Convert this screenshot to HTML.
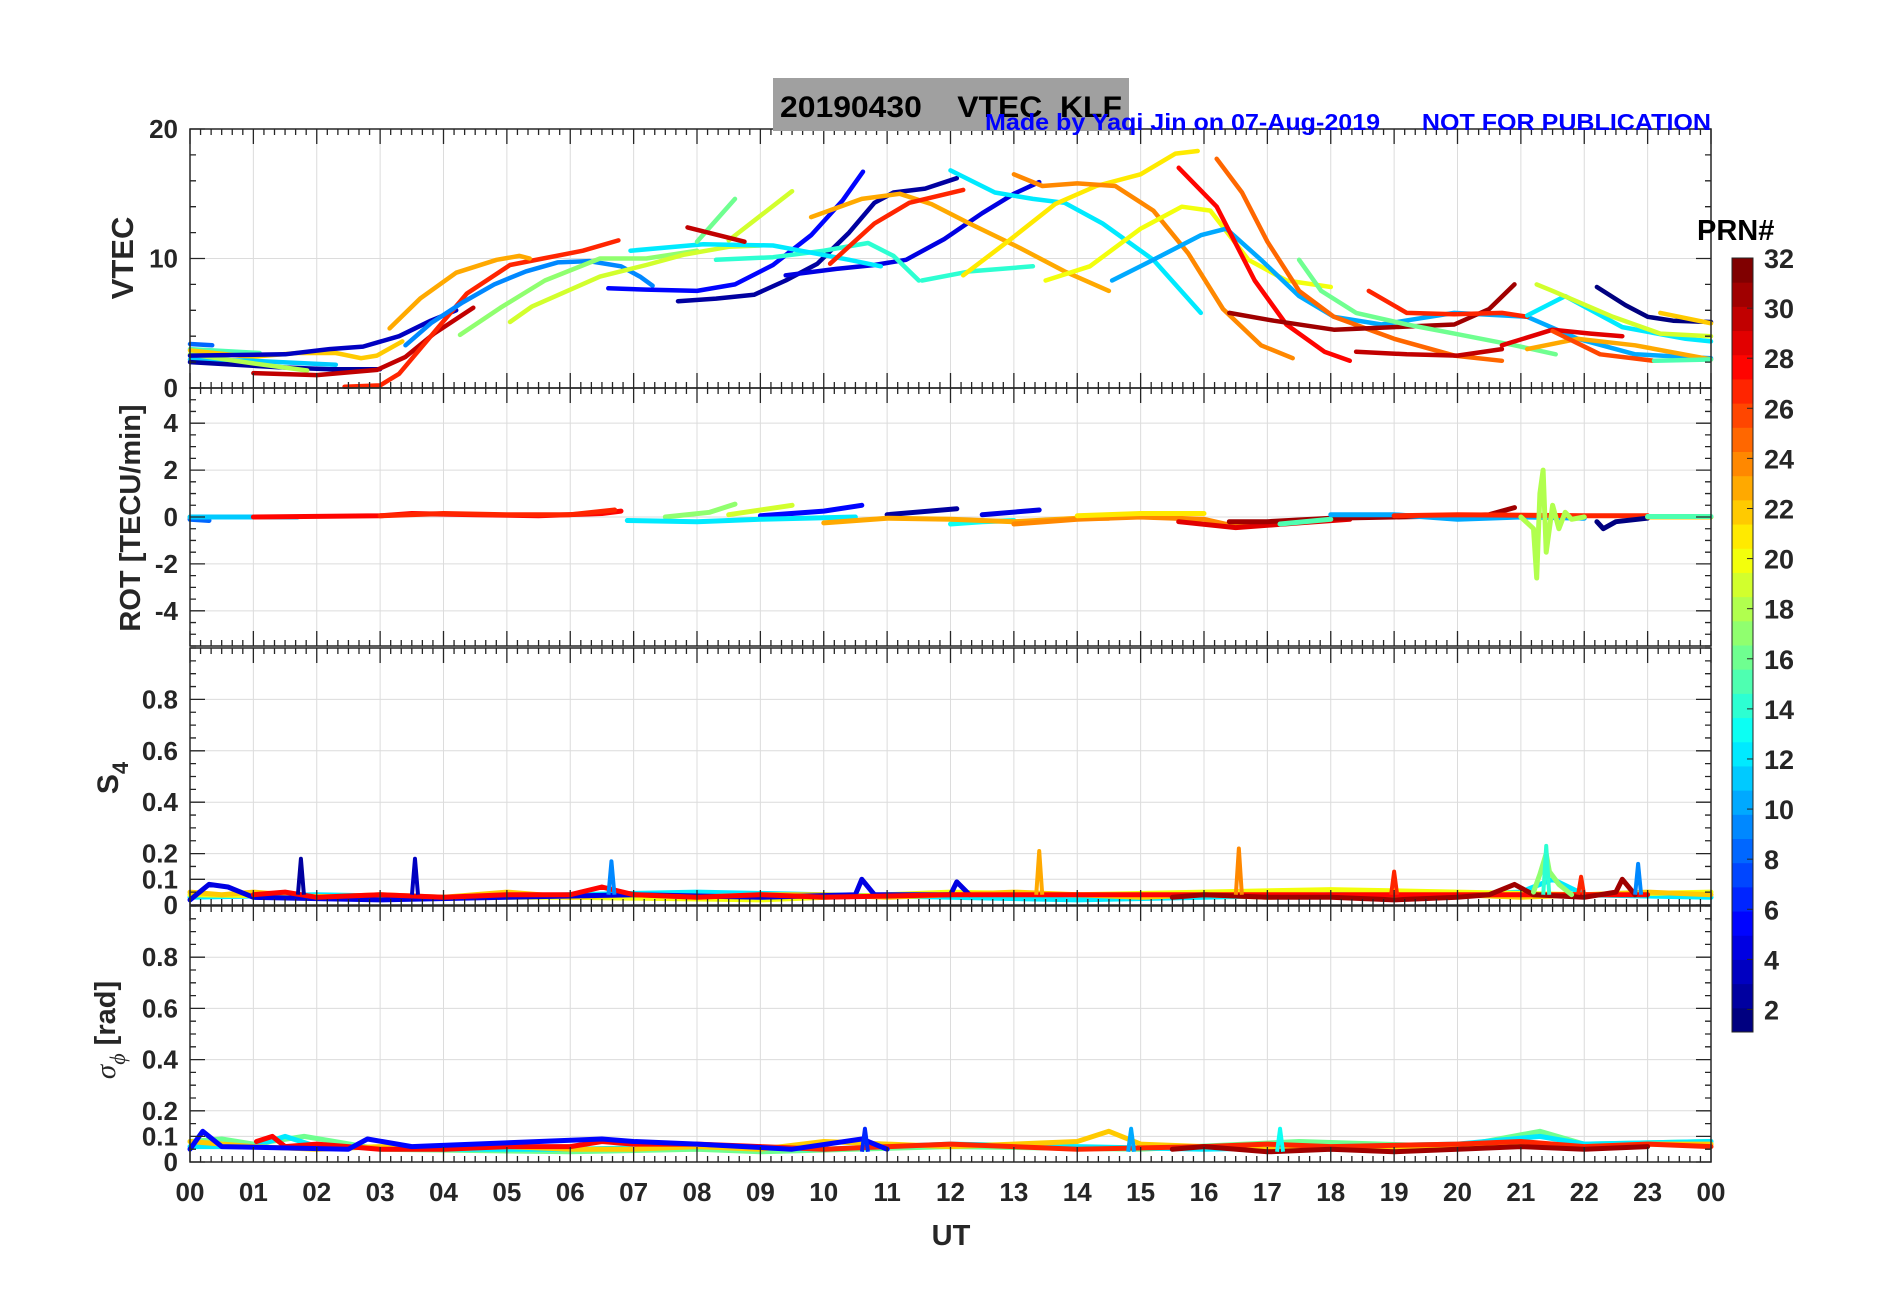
<!DOCTYPE html>
<html><head><meta charset="utf-8"><style>
html,body{margin:0;padding:0;background:#fff;}
svg{display:block;font-family:"Liberation Sans",Arial,sans-serif;}
</style></head><body>
<svg id="chart" xmlns="http://www.w3.org/2000/svg" width="1902" height="1292" viewBox="0 0 1902 1292">
<rect x="0" y="0" width="1902" height="1292" fill="#fff"/>
<g id="grid"></g>
<g id="series"></g>
<g id="axes"></g>
<rect x="773" y="78" width="356" height="53" fill="#a0a0a0"/>
<text x="780" y="117" font-size="30" font-weight="bold" fill="#000" textLength="342" lengthAdjust="spacingAndGlyphs" xml:space="preserve">20190430    VTEC  KLF</text>
<text x="985" y="130" font-size="23" font-weight="bold" fill="#0000ff" textLength="726" lengthAdjust="spacingAndGlyphs" xml:space="preserve">Made by Yaqi Jin on 07-Aug-2019      NOT FOR PUBLICATION</text>
<text transform="translate(133,258) rotate(-90)" text-anchor="middle" font-size="31" font-weight="bold" fill="#262626">VTEC</text>
<text transform="translate(140,518) rotate(-90)" text-anchor="middle" font-size="29" font-weight="bold" fill="#262626">ROT [TECU/min]</text>
<text transform="translate(118,778) rotate(-90)" text-anchor="middle" font-size="30" font-weight="bold" fill="#262626">S<tspan font-size="22" dy="10">4</tspan></text>
<text transform="translate(115,1030) rotate(-90)" text-anchor="middle" font-size="29" font-weight="bold" fill="#262626"><tspan font-family="Liberation Serif,serif" font-style="italic" font-weight="normal">σ</tspan><tspan font-family="Liberation Serif,serif" font-style="italic" font-weight="normal" font-size="22" dy="10">ϕ</tspan><tspan dy="-10"> [rad]</tspan></text>
<text x="951" y="1245" text-anchor="middle" font-size="29" font-weight="bold" fill="#262626">UT</text>
<text x="1697" y="240" font-size="29" font-weight="bold" fill="#000">PRN#</text>
<g id="colorbar"></g>
</svg>
<script>
// ---------- DATA ----------
const xTickLabels = ["00","01","02","03","04","05","06","07","08","09","10","11","12","13","14","15","16","17","18","19","20","21","22","23","00"];
const vtecTicks = [0,10,20];
const rotTicks = [-4,-2,0,2,4];
const s4Ticks = [0,0.1,0.2,0.4,0.6,0.8];
const sigTicks = [0,0.1,0.2,0.4,0.6,0.8];
const prnTicks = [2,4,6,8,10,12,14,16,18,20,22,24,26,28,30,32];

const vtecPrn = [8,15,22,11,2,18,3,30,27,23,9,17,19,5,2,4,14,12,16,19,30,23,27,12,14,21,24,20,10,28,25,31,16,30,27,12,19,1,22,23,29,26,15];
const vtecArcs = [
 [[0,3.4],[0.35,3.3]],
 [[0,3.0],[1.1,2.7]],
 [[0,2.9],[0.95,2.4],[1.7,2.7],[2.3,2.7],[2.7,2.3],[2.95,2.5],[3.35,3.6]],
 [[0,2.2],[1,2.1],[2.3,1.8]],
 [[0,2.0],[1.4,1.6],[2.2,1.45],[3.0,1.45]],
 [[0,2.6],[1,1.9],[1.85,1.35]],
 [[0,2.5],[1.5,2.6],[2.2,3.0],[2.73,3.2],[3.3,4.0],[3.8,5.2],[4.2,6.0]],
 [[1.0,1.15],[2.0,1.0],[2.95,1.4],[3.4,2.4],[3.85,4.2],[4.47,6.2]],
 [[2.44,0.1],[3.0,0.2],[3.3,1.1],[3.8,4.0],[4.37,7.3],[5.05,9.5],[5.57,10.0],[6.2,10.6],[6.76,11.4]],
 [[3.15,4.6],[3.63,6.9],[4.2,8.9],[4.84,9.9],[5.2,10.2],[5.36,10.0]],
 [[3.4,3.3],[3.8,5.0],[4.3,6.6],[4.8,8.0],[5.3,9.0],[5.8,9.7],[6.3,9.8],[6.8,9.4],[7.1,8.6],[7.3,7.9]],
 [[4.26,4.1],[4.9,6.2],[5.6,8.3],[6.47,10.0],[7.2,10.0],[8.0,10.6]],
 [[5.05,5.1],[5.4,6.3],[6.47,8.6],[7.2,9.5],[7.8,10.3],[8.5,10.9],[9.0,11.0]],
 [[6.6,7.7],[7.2,7.6],[8.0,7.5],[8.6,8.0],[9.2,9.5],[9.8,11.8],[10.3,14.5],[10.62,16.7]],
 [[7.7,6.7],[8.3,6.9],[8.9,7.2],[9.4,8.3],[9.9,9.6],[10.4,12.0],[10.8,14.3],[11.1,15.1],[11.6,15.4],[12.1,16.2]],
 [[9.4,8.7],[10.2,9.2],[10.8,9.5],[11.3,9.9],[11.9,11.5],[12.5,13.5],[13.0,15.0],[13.4,15.9]],
 [[8.3,9.9],[9.2,10.1],[10.0,10.6],[10.7,11.2],[11.1,10.2],[11.5,8.3]],
 [[6.95,10.6],[8.1,11.1],[9.2,11.0],[10.4,9.9],[10.9,9.4]],
 [[8.0,11.3],[8.6,14.6]],
 [[8.5,11.4],[9.5,15.2]],
 [[7.85,12.4],[8.75,11.3]],
 [[9.8,13.2],[10.6,14.6],[11.2,15.0],[11.7,14.2],[12.3,12.7],[13.1,10.8],[13.8,9.0],[14.5,7.5]],
 [[10.1,9.6],[10.8,12.7],[11.35,14.3],[12.2,15.3]],
 [[12.0,16.8],[12.7,15.1],[13.3,14.6],[13.8,14.3],[14.4,12.7],[15.2,9.9],[15.95,5.8]],
 [[11.55,8.3],[12.3,9.0],[13.3,9.4]],
 [[12.2,8.7],[12.9,11.3],[13.65,14.2],[14.3,15.6],[15.0,16.5],[15.55,18.1],[15.9,18.3]],
 [[13.0,16.5],[13.45,15.6],[14.0,15.8],[14.6,15.6],[15.2,13.7],[15.75,10.4],[16.3,6.1],[16.9,3.3],[17.4,2.3]],
 [[13.5,8.3],[14.2,9.4],[15.0,12.3],[15.65,14.0],[16.1,13.7],[16.7,9.9],[17.3,8.3],[18.0,7.8]],
 [[14.55,8.3],[15.2,9.9],[15.95,11.8],[16.35,12.3],[16.9,9.9],[17.5,7.1],[18.05,5.5],[18.8,4.9],[19.95,5.8],[21.1,5.5],[21.9,3.8],[22.8,2.6],[24,2.3]],
 [[15.6,17.0],[16.2,14.0],[16.8,8.3],[17.3,4.9],[17.9,2.8],[18.3,2.1]],
 [[16.2,17.7],[16.6,15.1],[17.0,11.3],[17.5,7.5],[18.05,5.5],[19.0,3.8],[19.95,2.5],[20.7,2.1]],
 [[16.4,5.8],[17.1,5.2],[18.05,4.5],[19.0,4.7],[19.95,4.9],[20.5,6.1],[20.9,8.0]],
 [[17.5,9.9],[17.85,7.5],[18.4,5.8],[19.2,4.9],[19.95,4.2],[20.9,3.3],[21.55,2.6]],
 [[18.4,2.8],[19.2,2.6],[20.0,2.5],[20.7,3.0]],
 [[18.6,7.5],[19.2,5.8],[19.95,5.7],[20.7,5.8],[21.1,5.5]],
 [[21.1,5.6],[21.7,7.1],[22.6,4.7],[23.6,3.8],[24,3.6]],
 [[21.25,8.0],[21.5,7.5],[22.45,5.5],[23.2,4.2],[24,4.0]],
 [[22.2,7.8],[22.65,6.4],[23.0,5.5],[23.4,5.2],[24,5.1]],
 [[23.2,5.8],[24,5.0]],
 [[21.1,3.0],[21.9,3.8],[22.8,3.3],[24,2.2]],
 [[20.7,3.3],[21.5,4.5],[22.1,4.2],[22.6,4.0]],
 [[21.5,4.4],[22.25,2.6],[23.1,2.1]],
 [[23.1,2.1],[24,2.2]]
];

const rotPrn = [8,20,11,28,27,17,19,5,12,2,4,13,23,24,21,29,31,15,10,27,18,1,22,15];
const rotArcs = [
 [[0,-0.1],[0.3,-0.15]],
 [[0,0],[1,0]],
 [[0,0],[1,0],[1.7,0]],
 [[1,0],[3,0.05],[3.5,0.15],[4.5,0.1],[5.5,0.05],[6.5,0.15],[6.8,0.25]],
 [[3,0.05],[4,0.15],[5,0.1],[6,0.1],[6.7,0.3]],
 [[7.5,0],[8.2,0.2],[8.6,0.55]],
 [[8.5,0.1],[9.5,0.5]],
 [[9,0.05],[10,0.25],[10.6,0.5]],
 [[6.9,-0.15],[8,-0.2],[9,-0.1],[10.5,0]],
 [[11,0.1],[12.1,0.35]],
 [[12.5,0.1],[13.4,0.3]],
 [[12,-0.3],[12.5,-0.2],[13,-0.15]],
 [[10,-0.25],[11,-0.05],[12,-0.1],[13,-0.2],[14,-0.05],[14.5,-0.05]],
 [[13,-0.3],[14,-0.1],[15,0],[16,-0.1],[16.5,-0.4],[17.4,-0.2]],
 [[14,0.05],[15,0.15],[16,0.15]],
 [[15.6,-0.2],[16.5,-0.45],[17.5,-0.25],[18.3,-0.1]],
 [[16.4,-0.2],[17,-0.2],[18,-0.05],[19,0],[20,0.05],[20.5,0.1],[20.9,0.4]],
 [[17.2,-0.3],[18,-0.1]],
 [[18,0.1],[19,0.1],[20,-0.1],[21,0],[22,-0.05]],
 [[19,0.05],[20,0.1],[22,0.05],[23,0.05]],
 [[21,0],[21.2,-0.5],[21.25,-2.6],[21.3,1.0],[21.35,2.0],[21.4,-1.5],[21.5,0.5],[21.6,-0.5],[21.7,0.2],[21.8,-0.1],[22,0]],
 [[22.2,-0.2],[22.3,-0.5],[22.5,-0.2],[23,-0.05]],
 [[23,0],[24,0]],
 [[23,0.02],[24,0.02]]
];

const s4Prn = [12,20,22,4,28,31,17];
const s4Arcs = [
 [[0,0.03],[2,0.04],[4,0.03],[6,0.04],[8,0.05],[10,0.04],[12,0.03],[14,0.02],[16,0.03],[18,0.04],[19,0.05],[20,0.04],[21,0.05],[21.5,0.1],[22,0.04],[24,0.03]],
 [[0,0.04],[3,0.03],[6,0.03],[9,0.02],[12,0.05],[14,0.04],[16,0.05],[18,0.06],[20,0.05],[22,0.04],[24,0.05]],
 [[0,0.05],[0.5,0.04],[1,0.05],[2,0.03],[3,0.04],[4,0.03],[5,0.05],[6,0.03],[7,0.04],[8,0.03],[9,0.04],[10,0.04],[11,0.03],[12,0.04],[13,0.05],[14,0.04],[15,0.03],[16,0.04],[17,0.03],[18,0.04],[19,0.03],[20,0.04],[21,0.03],[22,0.04],[23,0.05],[24,0.04]],
 [[0,0.02],[0.3,0.08],[0.6,0.07],[1,0.03],[3,0.02],[5,0.03],[7,0.04],[9,0.03],[10.5,0.04],[10.6,0.1],[10.8,0.04],[12,0.04],[12.1,0.09],[12.3,0.04]],
 [[1,0.04],[1.5,0.05],[2,0.03],[3,0.04],[4,0.03],[5,0.04],[6,0.04],[6.5,0.07],[7,0.04],[8,0.03],[9,0.04],[10,0.03],[12,0.04],[14,0.04],[16,0.04],[18,0.04],[20,0.04],[22,0.04],[23,0.04]],
 [[15.5,0.03],[16,0.04],[17,0.03],[18,0.03],[19,0.02],[20,0.03],[20.5,0.04],[20.9,0.08],[21.2,0.04],[22,0.03],[22.5,0.05],[22.6,0.1],[22.8,0.04]],
 [[21.2,0.05],[21.3,0.12],[21.4,0.2],[21.45,0.13],[21.6,0.08],[21.8,0.04]]
];
const s4SpikeHour = [1.75,3.55,6.65,13.4,16.55,19.0,21.95,22.85,21.4];
const s4SpikeValue = [0.18,0.18,0.17,0.21,0.22,0.13,0.11,0.16,0.23];
const s4SpikePrn = [2,3,9,23,24,27,27,9,14];

const sigPrn = [16,12,22,27,28,31,5];
const sigArcs = [
 [[0,0.08],[0.5,0.09],[1,0.07],[1.8,0.1],[3,0.05],[6,0.04],[8,0.05],[9,0.04],[12,0.06],[15,0.05],[17.5,0.08],[20,0.06],[21.3,0.12],[22,0.07],[24,0.08]],
 [[0,0.06],[1,0.06],[1.5,0.1],[2,0.06],[4,0.05],[6,0.05],[8,0.06],[10,0.05],[12,0.07],[14,0.06],[16,0.05],[18,0.06],[20,0.07],[21.3,0.1],[22,0.07],[24,0.08]],
 [[0,0.08],[1,0.06],[2,0.05],[3,0.06],[4,0.05],[5,0.06],[6,0.05],[7,0.05],[8,0.06],[9,0.05],[10,0.08],[11,0.07],[12,0.06],[13,0.07],[14,0.08],[14.5,0.12],[15,0.07],[16,0.06],[17,0.05],[18,0.06],[19,0.05],[20,0.06],[21,0.07],[22,0.06],[23,0.07],[24,0.07]],
 [[9,0.06],[10,0.05],[12,0.07],[14,0.05],[16,0.06],[17,0.07],[18,0.06],[20,0.07],[21,0.08],[22,0.06],[23,0.07],[24,0.06]],
 [[1.05,0.08],[1.3,0.1],[1.5,0.06],[2,0.07],[3,0.05],[4,0.05],[5,0.06],[6,0.06],[6.5,0.08],[7,0.07],[8,0.07],[9,0.06]],
 [[15.5,0.05],[16,0.06],[17,0.04],[18,0.05],[19,0.04],[20,0.05],[21,0.06],[22,0.05],[23,0.06]],
 [[0,0.05],[0.2,0.12],[0.5,0.06],[2.5,0.05],[2.8,0.09],[3.5,0.06],[6.5,0.09],[7,0.08],[8,0.07],[9.5,0.05],[10.6,0.09],[11,0.05]]
];
const sigSpikeHour = [10.65,14.85,17.2];
const sigSpikeValue = [0.13,0.13,0.13];
const sigSpikePrn = [6,10,13];

// ---------- AXES / SCALES ----------
const NS="http://www.w3.org/2000/svg";
const X0=190, X1=1711;
const xs = h => X0 + h*(X1-X0)/24;
const panels = [
 {name:"vtec", top:129, bot:388, min:0, max:20, ticks:vtecTicks, minor:2, fmt:v=>String(v)},
 {name:"rot", top:388, bot:646, min:-5.5, max:5.5, ticks:rotTicks, minor:0.5, fmt:v=>String(v)},
 {name:"s4", top:648, bot:905, min:0, max:1, ticks:s4Ticks, minor:0.05, fmt:v=>v===0?"0":v.toFixed(1)},
 {name:"sigma", top:906, bot:1162, min:0, max:1, ticks:sigTicks, minor:0.05, fmt:v=>v===0?"0":v.toFixed(1)}
];
panels.forEach(p=>{p.y=v=>p.bot-(v-p.min)/(p.max-p.min)*(p.bot-p.top);});

function jet(p){
 const t=(p-1)/31;
 const c=v=>Math.round(255*Math.max(0,Math.min(1,v)));
 return "rgb("+c(1.5-Math.abs(4*t-3))+","+c(1.5-Math.abs(4*t-2))+","+c(1.5-Math.abs(4*t-1))+")";
}
function mk(tag,attrs,parent){const e=document.createElementNS(NS,tag);for(const k in attrs)e.setAttribute(k,attrs[k]);parent.appendChild(e);return e;}

const grid=document.getElementById("grid"), axes=document.getElementById("axes"), series=document.getElementById("series");

panels.forEach(p=>{
 for(let h=1;h<24;h++){
  const gl=mk("line",{x1:xs(h),x2:xs(h),y1:p.top,y2:p.bot,stroke:"#dcdcdc","stroke-width":1},grid);
  
  
 }
 p.ticks.forEach(v=>{
  const gl=mk("line",{x1:X0,x2:X1,y1:p.y(v),y2:p.y(v),stroke:"#dcdcdc","stroke-width":1},grid);
  
  
 });
 const fr=mk("rect",{x:X0,y:p.top,width:X1-X0,height:p.bot-p.top,fill:"none",stroke:"#262626","stroke-width":1.5},axes);
 
 
 let d="";
 for(let m=0;m<=144;m++){
  const x=xs(m/6), L=(m%6===0)?15:6;
  d+="M"+x+","+p.top+"v"+L+"M"+x+","+p.bot+"v"+(-L);
 }
 const nm=Math.round((p.max-p.min)/p.minor);
 for(let i=0;i<=nm;i++){
  const v=p.min+i*p.minor, y=p.y(v);
  const major=p.ticks.some(t=>Math.abs(t-v)<1e-6);
  const L=major?15:6;
  d+="M"+X0+","+y+"h"+L+"M"+X1+","+y+"h"+(-L);
 }
 const tk=mk("path",{d:d,stroke:"#262626","stroke-width":1.3,fill:"none"},axes);
 
 
 p.ticks.forEach(v=>{
  const t=mk("text",{x:178,y:p.y(v)+9,"text-anchor":"end","font-size":26,"font-weight":"bold",fill:"#262626"},axes);
  t.textContent=p.fmt(v);
  
  
 });
});
xTickLabels.forEach((lab,i)=>{
 const t=mk("text",{x:xs(i),y:1201,"text-anchor":"middle","font-size":26,"font-weight":"bold",fill:"#262626"},axes);
 t.textContent=lab;
 
 
});

function drawArcs(arcs,prns,p,w,name){
 arcs.forEach((arc,i)=>{
  const pts=arc.map(q=>xs(q[0]).toFixed(1)+","+p.y(q[1]).toFixed(1)).join(" ");
  const pl=mk("polyline",{points:pts,fill:"none",stroke:jet(prns[i]),"stroke-width":w,"stroke-linejoin":"round","stroke-linecap":"round"},series);
  
  
 });
}
function drawSpikes(hs,vs,ps,p,name){
 hs.forEach((h,i)=>{
  const pl=mk("polyline",{points:(xs(h)-3)+","+p.y(0.04)+" "+xs(h)+","+p.y(vs[i])+" "+(xs(h)+3)+","+p.y(0.04),fill:"none",stroke:jet(ps[i]),"stroke-width":4,"stroke-linejoin":"round"},series);
  
  
 });
}
drawArcs(vtecArcs,vtecPrn,panels[0],4.5,"vtec-arc");
drawArcs(rotArcs,rotPrn,panels[1],5,"rot-arc");
drawArcs(s4Arcs,s4Prn,panels[2],5,"s4-series");
drawSpikes(s4SpikeHour,s4SpikeValue,s4SpikePrn,panels[2],"s4");
drawArcs(sigArcs,sigPrn,panels[3],5,"sigma-series");
drawSpikes(sigSpikeHour,sigSpikeValue,sigSpikePrn,panels[3],"sigma");

// colorbar
const cb=document.getElementById("colorbar");
const CB={x:1732,w:21,top:258,bot:1032,min:1.1,max:32};
const cy=v=>CB.bot-(v-CB.min)/(CB.max-CB.min)*(CB.bot-CB.top);
const bh=(CB.bot-CB.top)/32;
for(let i=0;i<32;i++){
 const r=mk("rect",{x:CB.x,y:CB.bot-(i+1)*bh,width:CB.w,height:bh+0.5,fill:jet(i+1)},cb);
 
 
}
mk("rect",{x:CB.x,y:CB.top,width:CB.w,height:CB.bot-CB.top,fill:"none",stroke:"#262626","stroke-width":1},cb);
prnTicks.forEach(v=>{
 const y=cy(v);
 mk("line",{x1:CB.x+CB.w-6,x2:CB.x+CB.w,y1:y,y2:y,stroke:"#262626","stroke-width":1},cb);
 const t=mk("text",{x:1764,y:y+10,"font-size":27,"font-weight":"bold",fill:"#262626"},cb);
 t.textContent=String(v);
 
 
});
</script>
</body></html>
